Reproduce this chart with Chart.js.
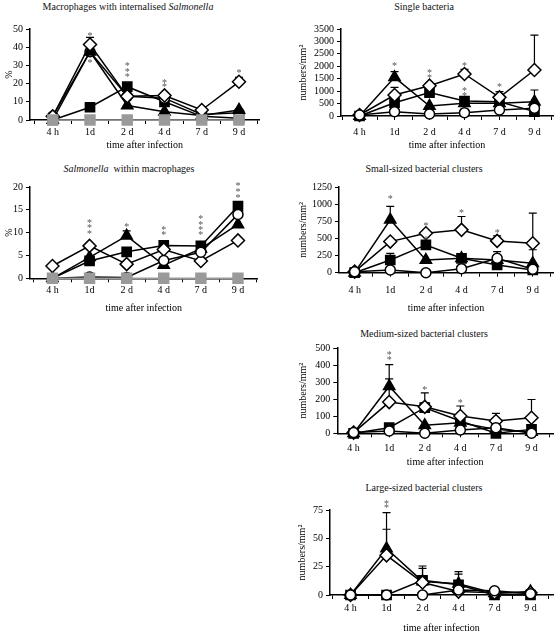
<!DOCTYPE html>
<html>
<head>
<meta charset="utf-8">
<script src="https://cdn.jsdelivr.net/npm/chart.js@4.4.1/dist/chart.umd.min.js"></script>
<style>
  body { margin: 0; width: 560px; height: 633px; background: #fff; position: relative; overflow: hidden;
         font-family: 'Liberation Serif', 'Times New Roman', serif; }
  .ttl { position: absolute; font-size: 10px; white-space: nowrap; transform: translate(-50%, -50%); color: #111; }
</style>
</head>
<body>
<div class="ttl" style="left:128px;top:6px">Macrophages with internalised <i>Salmonella</i></div>
<div class="ttl" style="left:424px;top:6px">Single bacteria</div>
<div class="ttl" style="left:129px;top:168px"><i>Salmonella</i> &nbsp;within macrophages</div>
<div class="ttl" style="left:424px;top:168px">Small-sized bacterial clusters</div>
<div class="ttl" style="left:424px;top:333px">Medium-sized bacterial clusters</div>
<div class="ttl" style="left:424px;top:487px">Large-sized bacterial clusters</div>
<script>
// tick labels of the time axis
const timeLabels = ['4 h', '1d', '2 d', '4 d', '7 d', '9 d'];

// Macrophages with internalised Salmonella (%)
const intDiamond = [2, 41.5, 13, 13.5, 5.5, 21];
const intTriangle = [0, 37.5, 8, 4.5, 2.5, 5.5];
const intSquare = [0, 7, 18.3, 10, 2, 1];
const intCircle = [2, 37.5, 13, 12, 3, 4];
const intGrey = [0, 0, 0, 0, 0, 0];
const intErrors = [['diamond', 1, 45.4], ['diamond', 5, 23.4]];
const intStars = [[1, 47.3], [1, 32.4], [2, 30.6], [2, 27.5], [2, 24.4], [3, 21.4], [3, 19], [5, 26.5]];

// Single bacteria (numbers/mm2)
const sglDiamond = [40, 845, 1220, 1690, 750, 1850];
const sglTriangle = [0, 1555, 400, 510, 510, 575];
const sglSquare = [0, 536, 940, 600, 575, 175];
const sglCircle = [40, 175, 80, 134, 240, 310];
const sglErrors = [['diamond', 1, 1150], ['triangle', 1, 1783], ['diamond', 3, 1877],
                   ['diamond', 4, 980], ['diamond', 5, 3257], ['triangle', 5, 1045]];
const sglStars = [[1, 2077], [2, 1780], [2, 1580], [3, 2077], [3, 1086], [3, 885], [4, 1220]];

// Salmonella within macrophages (%)
const witDiamond = [2.7, 7.1, 3.1, 6.3, 3.8, 8.3];
const witTriangle = [0, 4.6, 9.3, 2.9, 6.5, 11.8];
const witSquare = [0, 3.8, 5.8, 7.2, 7.1, 15.8];
const witCircle = [0, 0.3, 0.2, 3.9, 5.7, 14];
const witGrey = [0, 0, 0, 0, 0, 0];
const witErrors = [['triangle', 2, 10.4]];
const witStars = [[1, 12.5], [1, 11.3], [1, 10], [2, 11.6], [3, 10.9], [3, 9.8],
                  [4, 13.3], [4, 12.1], [4, 11], [4, 9.9], [5, 20.6], [5, 19.3], [5, 18]];

// Small-sized bacterial clusters
const smlDiamond = [15, 454, 576, 625, 464, 430];
const smlTriangle = [0, 771, 185, 210, 185, 137];
const smlSquare = [0, 185, 405, 210, 112, 39];
const smlCircle = [15, 39, 0, 59, 210, 49];
const smlErrors = [['triangle', 1, 967], ['square', 1, 283], ['diamond', 3, 820], ['diamond', 4, 537],
                   ['circle', 4, 308], ['diamond', 5, 869], ['triangle', 5, 335]];
const smlStars = [[1, 1103], [2, 698], [2, 503], [3, 894], [4, 600]];

// Medium-sized bacterial clusters
const medDiamond = [4, 183, 155, 101, 72, 91];
const medTriangle = [0, 276, 47, 62, 23, 8];
const medSquare = [0, 33, 150, 72, 0, 23];
const medCircle = [4, 14, 0, 19, 33, 0];
const medErrors = [['triangle', 1, 403], ['diamond', 1, 319], ['square', 2, 237], ['diamond', 2, 179],
                   ['diamond', 3, 160], ['diamond', 4, 117], ['diamond', 5, 198]];
const medStars = [[1, 467], [1, 441], [2, 266], [3, 189]];

// Large-sized bacterial clusters
const lrgDiamond = [0, 35, 11, 3, 2, 2];
const lrgTriangle = [0, 41, 12, 10, 1.5, 3];
const lrgSquare = [0, 0, 13, 9, 0, 0];
const lrgCircle = [0, 0, 0, 4.4, 3.8, 1];
const lrgErrors = [['triangle', 1, 72.6], ['diamond', 1, 58], ['square', 2, 25.6], ['triangle', 2, 23.5],
                   ['square', 3, 20.6], ['triangle', 3, 18.5]];
const lrgStars = [[1, 82], [1, 78]];

Chart.defaults.font.family = "'Liberation Serif', 'Times New Roman', serif";
Chart.defaults.font.size = 10;
Chart.defaults.color = '#000';

const shapes = {
  grey:     { pointStyle: 'rect',    pointRadius: 7,   pointBackgroundColor: '#9a9a9a', pointBorderColor: '#9a9a9a', borderColor: '#9a9a9a' },
  circle:   { pointStyle: 'circle',  pointRadius: 5,   pointBackgroundColor: '#fff', pointBorderColor: '#000', borderColor: '#000' },
  diamond:  { pointStyle: 'rectRot', pointRadius: 6.5, pointBackgroundColor: '#fff', pointBorderColor: '#000', borderColor: '#000' },
  triangle: { pointStyle: 'triangle', pointRadius: 6.5, pointBackgroundColor: '#000', pointBorderColor: '#000', borderColor: '#000' },
  square:   { pointStyle: 'rect',    pointRadius: 6.5, pointBackgroundColor: '#000', pointBorderColor: '#000', borderColor: '#000' }
};
// first one ends up on top
const drawOrder = ['grey', 'circle', 'diamond', 'triangle', 'square'];
const macroOrder = ['grey', 'diamond', 'triangle', 'circle', 'square'];

// error bars (behind markers) and asterisks (on top)
function marksPlugin(series, errors, stars) {
  return {
    id: 'marks',
    beforeDatasetsDraw(chart) {
      const { ctx, scales: { x, y } } = chart;
      ctx.save();
      ctx.strokeStyle = '#000';
      ctx.lineWidth = 1.2;
      errors.forEach(([key, i, top]) => {
        const px = x.getPixelForValue(i);
        const y0 = y.getPixelForValue(series[key][i]);
        const y1 = y.getPixelForValue(top);
        ctx.beginPath();
        ctx.moveTo(px, y0);
        ctx.lineTo(px, y1);
        ctx.moveTo(px - 4, y1);
        ctx.lineTo(px + 4, y1);
        ctx.stroke();
      });
      ctx.restore();
    },
    afterDatasetsDraw(chart) {
      const { ctx, scales: { x, y } } = chart;
      ctx.save();
      ctx.fillStyle = '#555';
      ctx.font = "10px 'Liberation Serif'";
      ctx.textAlign = 'center';
      ctx.textBaseline = 'middle';
      stars.forEach(([i, v]) => {
        ctx.fillText('*', x.getPixelForValue(i), y.getPixelForValue(v) + 2);
      });
      ctx.restore();
    }
  };
}

function buildPanel(p) {
  const padTop = 12, padRight = 3;
  const canvasLeft = p.yTitleX - 6;
  const yw = p.left - canvasLeft;
  const xh = p.xTitleY - p.bottom + 6;
  const width = Math.round(p.right + padRight - canvasLeft);
  const height = Math.round(p.bottom - p.top + padTop + xh);

  const canvas = document.createElement('canvas');
  canvas.width = width;
  canvas.height = height;
  canvas.style.cssText = `position:absolute;left:${canvasLeft}px;top:${p.top - padTop}px;width:${width}px;height:${height}px`;
  document.body.appendChild(canvas);

  const ppu = (p.x5 - p.x0) / 5;
  const xmin = -(p.x0 - p.left) / ppu;
  const xmax = 5 + (p.right - p.x5) / ppu;

  const order = p.order || drawOrder;
  const datasets = order.filter(k => p.series[k]).map(k => Object.assign({
    data: p.series[k].map((v, i) => ({ x: i, y: v })),
    borderWidth: 1.5,
    pointBorderWidth: 1.5,
    tension: 0,
    clip: false
  }, shapes[k]));

  new Chart(canvas, {
    type: 'line',
    data: { datasets },
    options: {
      responsive: false,
      animation: false,
      devicePixelRatio: 1,
      layout: { padding: { top: padTop, right: padRight, left: 0, bottom: 0 } },
      plugins: { legend: { display: false }, tooltip: { enabled: false } },
      scales: {
        x: {
          type: 'linear',
          min: xmin,
          max: xmax,
          bounds: 'data',
          afterBuildTicks: (s) => {
            const t = [];
            for (let k = -1; k <= 11; k++) {
              if (k / 2 >= xmin && k / 2 <= xmax) t.push({ value: k / 2 });
            }
            s.ticks = t;
          },
          afterFit: (s) => { s.height = xh; },
          ticks: {
            autoSkip: false,
            maxRotation: 0,
            padding: p.labelY - p.bottom - 10,
            callback: (v) => Number.isInteger(v) ? timeLabels[v] : ''
          },
          grid: { display: true, drawOnChartArea: false, drawTicks: true, tickLength: 4, color: '#000' },
          border: { display: true, color: '#000', width: 1.5 },
          title: { display: true, text: 'time after infection', padding: 0, font: { size: 10 } }
        },
        y: {
          min: 0,
          max: p.ymax,
          afterFit: (s) => { s.width = yw; },
          ticks: { stepSize: p.step, autoSkip: false, padding: 3, callback: (v) => String(v) },
          grid: { display: true, drawOnChartArea: false, drawTicks: true, tickLength: 4, color: '#000' },
          border: { display: true, color: '#000', width: 1.5 },
          title: { display: true, text: p.yTitle, padding: 0, font: { size: 10 } }
        }
      }
    },
    plugins: [marksPlugin(p.series, p.errors, p.stars)]
  });
}

const panels = [
  { left: 30, right: 265, top: 29, bottom: 120, x0: 53.3, x5: 244, ymax: 50, step: 10, yTitle: '%',
    yTitleX: 9, xTitleY: 145, labelY: 132, order: macroOrder,
    series: { grey: intGrey, circle: intCircle, diamond: intDiamond, triangle: intTriangle, square: intSquare },
    errors: intErrors, stars: intStars },
  { left: 341, right: 558, top: 29, bottom: 116, x0: 360, x5: 539, ymax: 3500, step: 500, yTitle: 'numbers/mm²',
    yTitleX: 303, xTitleY: 145, labelY: 132,
    series: { circle: sglCircle, diamond: sglDiamond, triangle: sglTriangle, square: sglSquare },
    errors: sglErrors, stars: sglStars },
  { left: 30, right: 263, top: 186.7, bottom: 278.3, x0: 53, x5: 243, ymax: 20, step: 5, yTitle: '%',
    yTitleX: 9, xTitleY: 308, labelY: 290,
    series: { grey: witGrey, circle: witCircle, diamond: witDiamond, triangle: witTriangle, square: witSquare },
    errors: witErrors, stars: witStars },
  { left: 339, right: 558, top: 187.3, bottom: 272.7, x0: 355, x5: 537.3, ymax: 1250, step: 250, yTitle: 'numbers/mm²',
    yTitleX: 303, xTitleY: 308, labelY: 290,
    series: { circle: smlCircle, diamond: smlDiamond, triangle: smlTriangle, square: smlSquare },
    errors: smlErrors, stars: smlStars },
  { left: 337.3, right: 558, top: 348.3, bottom: 434, x0: 354, x5: 536, ymax: 500, step: 100, yTitle: 'numbers/mm²',
    yTitleX: 303, xTitleY: 462.7, labelY: 449,
    series: { circle: medCircle, diamond: medDiamond, triangle: medTriangle, square: medSquare },
    errors: medErrors, stars: medStars },
  { left: 330, right: 558, top: 510, bottom: 595, x0: 351, x5: 535, ymax: 75, step: 25, yTitle: 'numbers/mm²',
    yTitleX: 302, xTitleY: 628, labelY: 608,
    series: { circle: lrgCircle, diamond: lrgDiamond, triangle: lrgTriangle, square: lrgSquare },
    errors: lrgErrors, stars: lrgStars }
];

panels.forEach(buildPanel);
</script>
</body>
</html>
